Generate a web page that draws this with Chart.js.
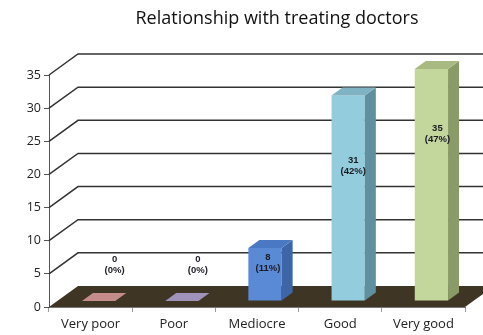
<!DOCTYPE html>
<html>
<head>
<meta charset="utf-8">
<script src="https://cdn.jsdelivr.net/npm/chart.js@4"></script>
<style>body{margin:0;background:#fff}</style>
</head>
<body>
<canvas id="vis" width="483" height="335"></canvas>
<script>
const chartTitle = 'Relationship with treating doctors';
const categories = ['Very poor', 'Poor', 'Mediocre', 'Good', 'Very good'];
const counts = [0, 0, 8, 31, 35];
const yTicks = [0, 5, 10, 15, 20, 25, 30, 35];

const total = counts.reduce((a, b) => a + b, 0);
const percents = counts.map(v => Math.round(v / total * 100));

const frontColors = ['#c0807f', '#9b8fb9', '#5a8ad6', '#93cddd', '#c3d69b'];
const sideColors = ['#8f5a59', '#6c6390', '#3d66a8', '#5f909f', '#8a9b68'];
const topColors = ['#c48c8b', '#9f93bb', '#4a78c2', '#7fb2c2', '#a8b982'];

// 3d offsets
const wallDx = 29, wallDy = -21;
const barDx = 8, barDy = -6;
const sideDx = 11, sideDy = -8;

const fake3d = {
  id: 'fake3d',
  beforeDatasetsDraw(chart) {
    const {ctx, chartArea: a, scales: {y}} = chart;
    ctx.save();
    // floor
    ctx.fillStyle = '#3e3524';
    ctx.beginPath();
    ctx.moveTo(a.left, a.bottom);
    ctx.lineTo(a.right, a.bottom);
    ctx.lineTo(a.right + wallDx, a.bottom + wallDy);
    ctx.lineTo(a.left + wallDx, a.bottom + wallDy);
    ctx.closePath();
    ctx.fill();
    // back wall grid
    ctx.strokeStyle = '#333';
    ctx.lineWidth = 1.5;
    yTicks.forEach(v => {
      if (v === 0) return;
      const py = y.getPixelForValue(v);
      ctx.beginPath();
      ctx.moveTo(a.left, py);
      ctx.lineTo(a.left + wallDx, py + wallDy);
      ctx.lineTo(chart.width, py + wallDy);
      ctx.stroke();
    });
    ctx.restore();
  },
  beforeDatasetDraw(chart) {
    chart.ctx.save();
    chart.ctx.translate(barDx, barDy);
  },
  afterDatasetDraw(chart) {
    chart.ctx.restore();
  },
  afterDatasetsDraw(chart, args, opts) {
    const {ctx, scales: {y}} = chart;
    const bars = chart.getDatasetMeta(0).data;
    ctx.save();
    ctx.translate(barDx, barDy);
    bars.forEach((b, i) => {
      const l = b.x - b.width / 2, r = b.x + b.width / 2;
      // side
      ctx.fillStyle = sideColors[i];
      ctx.beginPath();
      ctx.moveTo(r, b.y);
      ctx.lineTo(r + sideDx, b.y + sideDy);
      ctx.lineTo(r + sideDx, b.base + sideDy);
      ctx.lineTo(r, b.base);
      ctx.closePath();
      ctx.fill();
      // top
      ctx.fillStyle = topColors[i];
      ctx.beginPath();
      ctx.moveTo(l, b.y);
      ctx.lineTo(r, b.y);
      ctx.lineTo(r + sideDx, b.y + sideDy);
      ctx.lineTo(l + sideDx, b.y + sideDy);
      ctx.closePath();
      ctx.fill();
    });
    ctx.restore();
    // value labels
    ctx.save();
    ctx.fillStyle = '#1b1b24';
    ctx.font = 'bold 9.5px "Liberation Sans"';
    ctx.textAlign = 'center';
    ctx.textBaseline = 'middle';
    bars.forEach((b, i) => {
      const [dx, at] = opts.anchors[i];
      const cx = b.x + dx, cy = y.getPixelForValue(at);
      ctx.fillText(String(counts[i]), cx, cy - 5.5);
      ctx.fillText('(' + percents[i] + '%)', cx, cy + 5.5);
    });
    ctx.restore();
  },
  afterDraw(chart) {
    const ctx = chart.ctx;
    ctx.save();
    ctx.fillStyle = '#111';
    ctx.font = '18px "Open Sans"';
    ctx.textAlign = 'center';
    ctx.textBaseline = 'middle';
    ctx.fillText(chartTitle, 277, 19);
    ctx.restore();
  }
};

const ctx = document.getElementById('vis').getContext('2d');
const myChart = new Chart(ctx, {
  type: 'bar',
  data: {
    labels: categories,
    datasets: [{
      data: counts,
      backgroundColor: frontColors,
      borderWidth: 0,
      barPercentage: 1,
      categoryPercentage: 0.4
    }]
  },
  options: {
    responsive: false,
    animation: false,
    layout: {padding: {top: 75, right: 18, left: 0, bottom: 0}},
    plugins: {
      legend: {display: false},
      tooltip: {enabled: false},
      fake3d: {anchors: [[24, 6.4], [24, 6.4], [11, 6.7], [13, 21.3], [14, 26.1]]}
    },
    scales: {
      x: {
        afterFit(s) { s.height = 28; },
        grid: {drawOnChartArea: false, tickLength: 5, color: '#999'},
        border: {color: '#777'},
        ticks: {color: '#222', font: {family: 'Open Sans', size: 13}, padding: 4}
      },
      y: {
        min: 0,
        max: 35,
        afterFit(s) { s.width = 49; },
        afterBuildTicks(s) { s.ticks = yTicks.map(v => ({value: v})); },
        grid: {drawOnChartArea: false, tickLength: 5, color: '#555'},
        border: {color: '#555'},
        ticks: {color: '#222', font: {family: 'Open Sans', size: 12.5}, padding: 3}
      }
    }
  },
  plugins: [fake3d]
});
</script>
</body>
</html>
